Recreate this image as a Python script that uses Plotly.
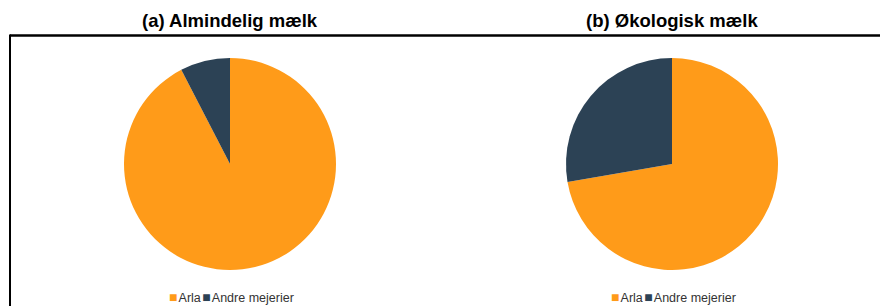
import plotly.graph_objects as go

labels = ["Arla", "Andre mejerier"]
colors = ["#FF9B19", "#2C4255"]
values_almindelig = [92.4, 7.6]
values_okologisk = [72.3, 27.7]
titles = ["(a) Almindelig mælk", "(b) Økologisk mælk"]

W, H = 880, 306

def px_x(x):
    return x / W

def px_y(y):
    return 1 - y / H

fig = go.Figure()

pie_boxes = [(124, 336), (566, 778)]
for vals, (x0, x1) in zip([values_almindelig, values_okologisk], pie_boxes):
    fig.add_trace(go.Pie(
        labels=labels,
        values=vals,
        marker=dict(colors=colors, line=dict(width=0)),
        sort=False,
        direction="clockwise",
        rotation=0,
        textinfo="none",
        hoverinfo="label+percent",
        showlegend=False,
        domain=dict(x=[px_x(x0), px_x(x1)], y=[px_y(270), px_y(58)]),
    ))

annotations = []
centers = [230, 672]
for t, cx in zip(titles, centers):
    annotations.append(dict(
        text="<b>%s</b>" % t, x=px_x(cx), y=px_y(21), xref="paper", yref="paper",
        xanchor="center", yanchor="middle", showarrow=False,
        font=dict(family="Liberation Sans, Arial, sans-serif", size=18.5, color="#000000"),
    ))
    legend_html = '<span style="font-size:5px">&nbsp;</span>'.join(
        '<span style="color:%s;font-size:14px">■</span><span style="font-size:4px">&nbsp;</span>%s' % (c, l)
        for l, c in zip(labels, colors)
    )
    annotations.append(dict(
        text=legend_html, x=px_x(cx + 1), y=px_y(297), xref="paper", yref="paper",
        xanchor="center", yanchor="middle", showarrow=False,
        font=dict(family="Liberation Sans, Arial, sans-serif", size=12.5, color="#333333"),
    ))

shapes = [
    dict(type="line", xref="paper", yref="paper", x0=px_x(10), x1=px_x(W + 10),
         y0=px_y(35.5), y1=px_y(35.5), line=dict(color="#000000", width=2.5)),
    dict(type="line", xref="paper", yref="paper", x0=px_x(10), x1=px_x(10),
         y0=px_y(34.5), y1=px_y(H + 10), line=dict(color="#000000", width=2)),
]

fig.update_layout(
    width=W, height=H,
    margin=dict(l=0, r=0, t=0, b=0),
    paper_bgcolor="white", plot_bgcolor="white",
    annotations=annotations,
    shapes=shapes,
    showlegend=False,
)

fig.write_html(
    "out.html",
    config={"displayModeBar": False},
    post_script="document.body.style.margin='0';document.body.style.padding='0';",
)
